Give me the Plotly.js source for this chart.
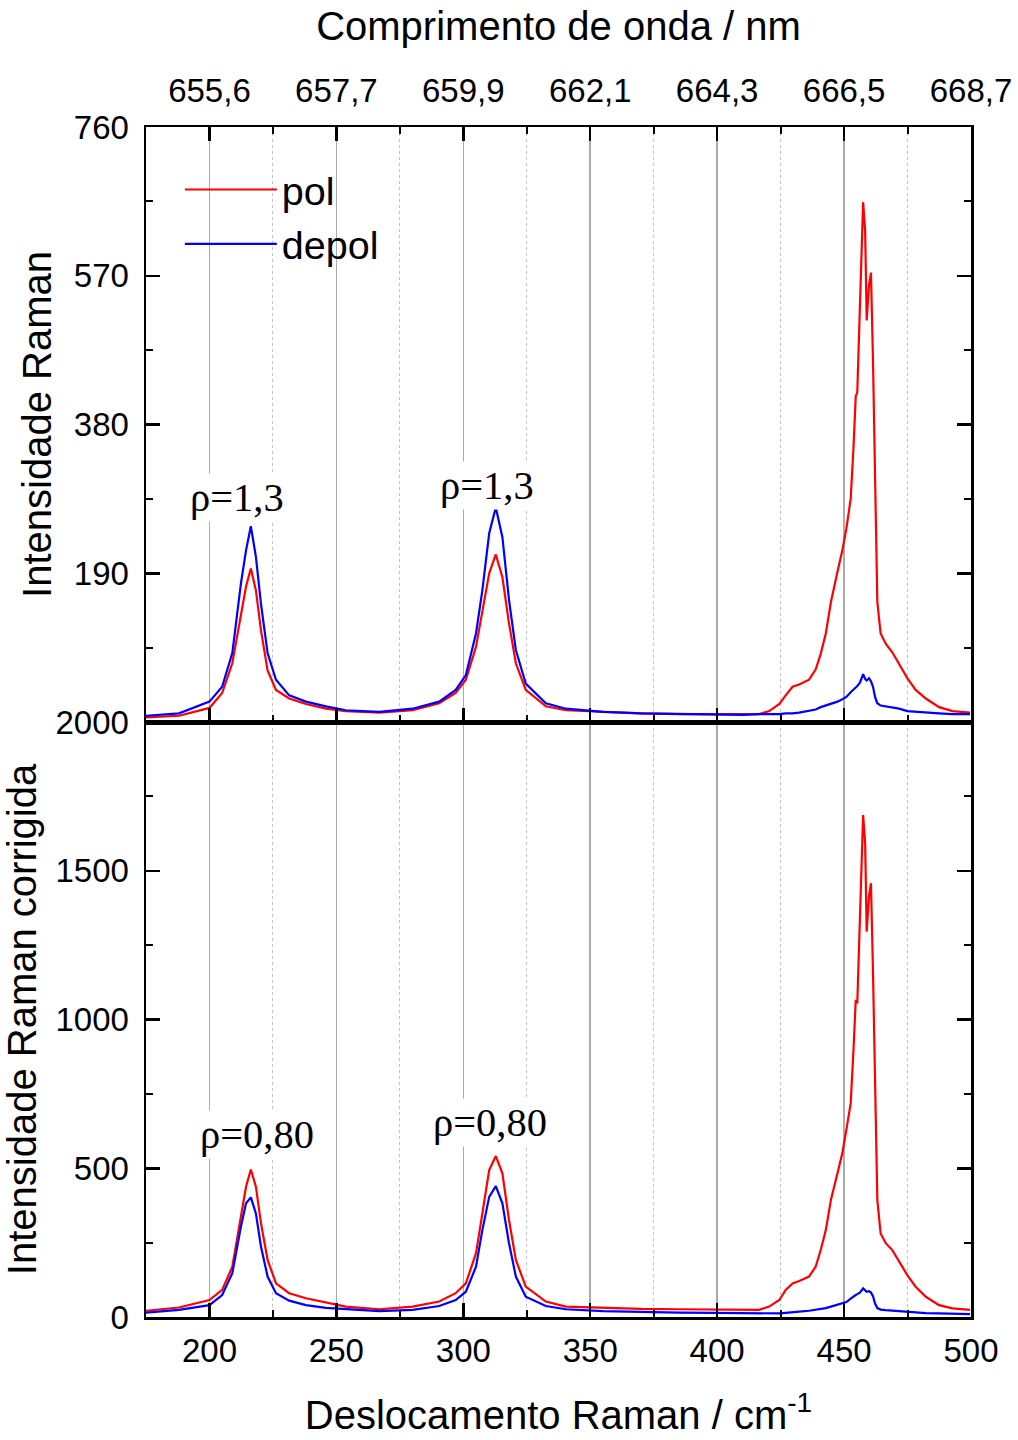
<!DOCTYPE html>
<html>
<head>
<meta charset="utf-8">
<script src="https://cdn.plot.ly/plotly-3.0.1.min.js"></script>
<style>html,body{margin:0;padding:0;background:#fff;}</style>
</head>
<body>
<div id="chart" style="width:1018px;height:1440px;"></div>
<script>
// Raman shift (cm-1)
const ramanShift = [
  175, 188, 200, 205, 209, 212.4, 214.4, 216.3, 218.3, 220.3, 222.9, 226.2, 231.4, 238, 245.9,
  253.7, 266.9, 280, 290.5, 297, 301, 305, 307.5, 310.2, 312.8, 315.4, 318, 320.7, 324.6, 332.5, 340.4,
  355, 370, 385, 400, 410,
  416.5, 420.5, 424.5, 427, 429.7, 432.3, 436.2, 438.8, 440.8, 442.8, 444.8, 447.4, 449.3, 450.9,
  452.6, 453.7, 454.6, 455.2, 456.2, 457.5, 458.3, 458.9, 459.8, 460.6, 461.4, 462.2, 463.1, 464.4,
  466.4, 469, 471.7, 474.9, 478.2, 482.2, 487.4, 492.7, 499.6
];

// Top panel: Intensidade Raman
const rawPol = [
  6, 8, 18, 37, 75, 139, 173, 196, 168, 117, 66, 41, 30, 23, 17,
  14, 12, 15, 24, 37, 54, 96, 139, 190, 214, 185, 126, 75, 41, 20, 15,
  13, 11, 10, 10, 10,
  10, 14, 23, 34, 45, 48, 54, 67, 87, 113, 153, 192, 219, 247,
  285, 350, 416, 421, 526, 664, 627, 513, 557, 574, 460, 285, 153, 113,
  100, 89, 74, 56, 41, 30, 19, 14, 12
];
const rawDepol = [
  8, 11, 26, 45, 88, 177, 219, 250, 211, 151, 88, 54, 34, 26, 20,
  15, 13, 17, 26, 41, 60, 113, 168, 241, 274, 236, 156, 92, 49, 24, 17,
  13, 11, 10, 9, 9,
  10, 10, 10, 11, 11, 12, 14, 16, 19, 21, 23, 26, 29, 32,
  38, 42, 44, 46, 50, 61, 55, 53, 56, 52, 45, 32, 24, 21,
  20, 19, 17, 14, 13, 12, 11, 10, 10
];

// Bottom panel: Intensidade Raman corrigida
const corrPol = [
  21, 32, 57, 91, 169, 348, 438, 496, 438, 315, 192, 113, 80, 63, 48,
  35, 26, 35, 52, 80, 113, 214, 348, 494, 541, 483, 326, 192, 102, 52, 35,
  30, 27, 26, 25, 24,
  24, 35, 57, 91, 113, 121, 136, 169, 225, 292, 393, 483, 550, 629,
  718, 897, 1066, 1054, 1346, 1687, 1592, 1295, 1413, 1458, 1155, 729, 393, 281,
  248, 225, 186, 141, 102, 68, 40, 29, 24
];
const corrDepol = [
  15, 24, 40, 74, 147, 304, 382, 402, 348, 236, 136, 80, 55, 40, 31,
  26, 20, 24, 37, 57, 85, 169, 292, 404, 440, 382, 248, 136, 68, 37, 26,
  20, 17, 15, 14, 13,
  12, 12, 12, 14, 15, 18, 21, 24, 27, 30, 35, 41, 45, 50,
  62, 70, 74, 77, 82, 96, 88, 85, 87, 82, 70, 45, 30, 25,
  23, 21, 20, 18, 16, 13, 12, 11, 10
];

const seriesNames = ['pol', 'depol'];
const seriesColors = ['#ff0000', '#0000ff'];

const shiftTickVals = [200, 250, 300, 350, 400, 450, 500];
const shiftMinorVals = [225, 275, 325, 375, 425, 475];
const wavelengthTickText = ['655,6', '657,7', '659,9', '662,1', '664,3', '666,5', '668,7'];
const rawTickVals = [190, 380, 570, 760];
const rawMinorVals = [95, 285, 475, 665];
const corrTickVals = [0, 500, 1000, 1500, 2000];
const corrMinorVals = [250, 750, 1250, 1750];
const rawRhoText = ['ρ=1,3', 'ρ=1,3'];
const corrRhoText = ['ρ=0,80', 'ρ=0,80'];

const SANS = 'Liberation Sans, Arial, sans-serif';
const SERIF = 'Liberation Serif, Times New Roman, serif';

const traces = [
  {x: ramanShift, y: rawPol, name: seriesNames[0], xaxis: 'x2', yaxis: 'y2', mode: 'lines',
   line: {color: seriesColors[0], width: 2.2}, showlegend: true},
  {x: ramanShift, y: rawDepol, name: seriesNames[1], xaxis: 'x2', yaxis: 'y2', mode: 'lines',
   line: {color: seriesColors[1], width: 2.2}, showlegend: true},
  {x: ramanShift, y: corrPol, name: seriesNames[0], xaxis: 'x', yaxis: 'y', mode: 'lines',
   line: {color: seriesColors[0], width: 2.2}, showlegend: false},
  {x: ramanShift, y: corrDepol, name: seriesNames[1], xaxis: 'x', yaxis: 'y', mode: 'lines',
   line: {color: seriesColors[1], width: 2.2}, showlegend: false}
];

const common = {
  ticks: 'inside', ticklen: 14, tickwidth: 2.5, tickcolor: '#000',
  showline: true, linewidth: 2.5, linecolor: '#000',
  zeroline: false, tickfont: {family: SANS, size: 33, color: '#000'}
};

const xMinor = {tickmode: 'array', tickvals: shiftMinorVals, ticks: 'inside', ticklen: 7, tickwidth: 2,
  tickcolor: '#000', showgrid: true, gridcolor: '#c4c4c4', griddash: 'dot', gridwidth: 1};

const titleFont = {family: SANS, size: 40, color: '#000'};
const rhoFont = {family: SERIF, size: 40.5, color: '#000'};

const layout = {
  width: 1018, height: 1440,
  paper_bgcolor: '#fff', plot_bgcolor: '#fff',
  margin: {l: 146, r: 47, t: 127, b: 123, pad: 0},
  font: {family: SANS, color: '#000'},
  xaxis: Object.assign({}, common, {
    domain: [0, 1], anchor: 'y', range: [175, 500],
    tickmode: 'array', tickvals: shiftTickVals, mirror: true,
    showgrid: true, gridcolor: '#aaaaaa', gridwidth: 1.5,
    minor: xMinor, ticklabelstandoff: 3,
    title: {text: 'Deslocamento Raman / cm<sup>-1</sup>', font: titleFont, standoff: 33}
  }),
  xaxis2: Object.assign({}, common, {
    anchor: 'y2', range: [175, 500], side: 'top', matches: 'x',
    tickmode: 'array', tickvals: shiftTickVals, ticktext: wavelengthTickText, mirror: 'ticks',
    showgrid: true, gridcolor: '#aaaaaa', gridwidth: 1.5,
    minor: xMinor, ticklabelstandoff: 9,
    title: {text: 'Comprimento de onda / nm', font: titleFont, standoff: 20}
  }),
  yaxis: Object.assign({}, common, {
    domain: [0, 0.5], anchor: 'x', range: [0, 2000],
    tickmode: 'array', tickvals: corrTickVals, mirror: 'ticks', showgrid: false,
    minor: {tickmode: 'array', tickvals: corrMinorVals, ticks: 'inside', ticklen: 7, tickwidth: 2, tickcolor: '#000'},
    ticklabelstandoff: 8,
    title: {text: 'Intensidade Raman corrigida', font: titleFont, standoff: 10}
  }),
  yaxis2: Object.assign({}, common, {
    domain: [0.5, 1], anchor: 'x2', range: [0, 760],
    tickmode: 'array', tickvals: rawTickVals, mirror: 'ticks', showgrid: false,
    minor: {tickmode: 'array', tickvals: rawMinorVals, ticks: 'inside', ticklen: 7, tickwidth: 2, tickcolor: '#000'},
    ticklabelstandoff: 8,
    title: {text: 'Intensidade Raman', font: titleFont, standoff: 10}
  }),
  legend: {
    x: 0.041, y: 0.9745, xanchor: 'left', yanchor: 'top',
    bgcolor: 'rgba(0,0,0,0)', borderwidth: 0,
    font: {family: SANS, size: 39.5, color: '#000'},
    itemwidth: 92, tracegroupgap: 0
  },
  annotations: [
    {x: 210.8, y: 287, xref: 'x2', yref: 'y2', text: rawRhoText[0], showarrow: false, bgcolor: '#fff', font: rhoFont},
    {x: 309.3, y: 302, xref: 'x2', yref: 'y2', text: rawRhoText[1], showarrow: false, bgcolor: '#fff', font: rhoFont},
    {x: 218.7, y: 612, xref: 'x', yref: 'y', text: corrRhoText[0], showarrow: false, bgcolor: '#fff', font: rhoFont},
    {x: 310.4, y: 655, xref: 'x', yref: 'y', text: corrRhoText[1], showarrow: false, bgcolor: '#fff', font: rhoFont}
  ]
};

Plotly.newPlot('chart', traces, layout, {displayModeBar: false, staticPlot: true});
</script>
</body>
</html>
